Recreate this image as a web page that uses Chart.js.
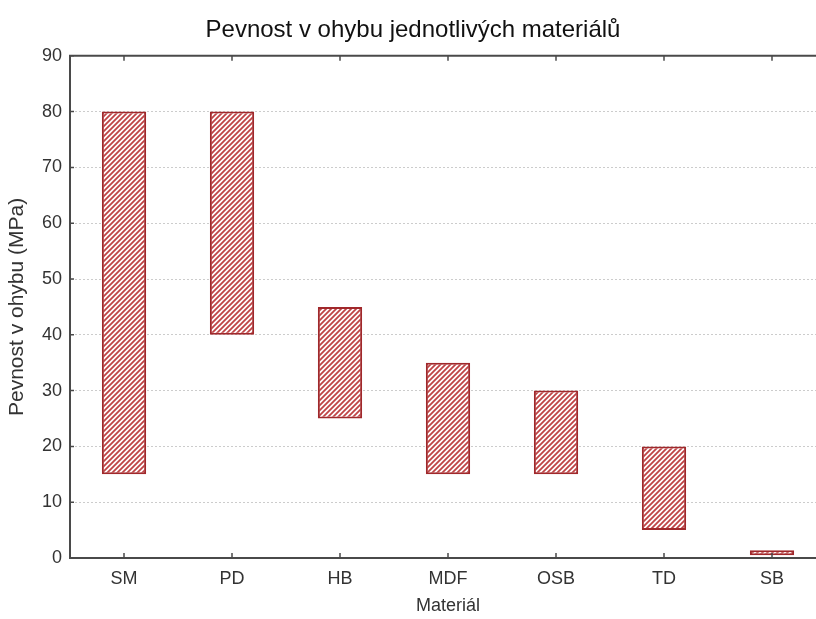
<!DOCTYPE html>
<html>
<head>
<meta charset="utf-8">
<script src="https://cdn.jsdelivr.net/npm/chart.js@4/dist/chart.umd.min.js"></script>
<style>
    html, body { margin: 0; padding: 0; background: #fff; overflow: hidden; }
    #wrap { width: 826px; height: 619px; }
</style>
</head>
<body>
<div id="wrap"><canvas id="pevnostChart" width="826" height="619"></canvas></div>
<script>
// data (MPa)
var categories = ['SM', 'PD', 'HB', 'MDF', 'OSB', 'TD', 'SB'];
var minValues = [15, 40, 25, 15, 15, 5, 0.5];
var maxValues = [80, 80, 45, 35, 30, 20, 1.4];
var yMin = 0;
var yMax = 90;
var yStep = 10;

function makeHatch() {
    var size = 5;
    var c = document.createElement('canvas');
    c.width = size;
    c.height = size;
    var g = c.getContext('2d');
    g.fillStyle = '#ffffff';
    g.fillRect(0, 0, size, size);
    g.strokeStyle = '#bf4446';
    g.lineWidth = 1.8;
    g.beginPath();
    g.moveTo(0, size); g.lineTo(size, 0);
    g.moveTo(-1, 1); g.lineTo(1, -1);
    g.moveTo(size - 1, size + 1); g.lineTo(size + 1, size - 1);
    g.stroke();
    return g.createPattern(c, 'repeat');
}

// top frame line + inward tick marks
var framePlugin = {
    id: 'frame',
    afterDraw: function(chart) {
        var ctx = chart.ctx;
        var a = chart.chartArea;
        var xs = chart.scales.x;
        var ys = chart.scales.y;
        ctx.save();
        ctx.strokeStyle = '#4a4a4a';
        ctx.lineWidth = 2;
        ctx.beginPath();
        ctx.moveTo(a.left - 1, a.top);
        ctx.lineTo(a.right, a.top);
        ctx.stroke();
        ctx.lineWidth = 1.5;
        ctx.beginPath();
        categories.forEach(function(c, i) {
            var px = Math.round(xs.getPixelForValue(i));
            ctx.moveTo(px, a.bottom);
            ctx.lineTo(px, a.bottom - 5);
            ctx.moveTo(px, a.top);
            ctx.lineTo(px, a.top + 5);
        });
        ys.ticks.forEach(function(t) {
            var py = ys.getPixelForValue(t.value);
            ctx.moveTo(a.left, py);
            ctx.lineTo(a.left + 4, py);
        });
        ctx.stroke();
        ctx.restore();
    }
};

Chart.defaults.font.family = '"Liberation Sans", Arial, sans-serif';
Chart.defaults.color = '#2a2a2a';

var ranges = categories.map(function(c, i) { return [minValues[i], maxValues[i]]; });

var ctx = document.getElementById('pevnostChart').getContext('2d');
var pevnostChart = new Chart(ctx, {
    type: 'bar',
    data: {
        labels: categories,
        datasets: [{
            label: 'Pevnost v ohybu',
            data: ranges,
            backgroundColor: makeHatch(),
            borderColor: '#a0282b',
            borderWidth: 2,
            borderSkipped: false,
            barPercentage: 0.41,
            categoryPercentage: 1
        }]
    },
    options: {
        responsive: false,
        animation: false,
        layout: { padding: 0 },
        plugins: {
            legend: { display: false },
            tooltip: { enabled: false },
            title: {
                display: true,
                text: 'Pevnost v ohybu jednotlivých materiálů',
                color: '#111111',
                font: { size: 24, weight: 'normal' },
                padding: { top: 16, bottom: 11 }
            }
        },
        scales: {
            x: {
                grid: { display: false, drawTicks: false },
                border: { display: true, color: '#4a4a4a', width: 2 },
                ticks: { font: { size: 18 }, padding: 10, color: '#333333' },
                title: {
                    display: true,
                    text: 'Materiál',
                    font: { size: 18 },
                    color: '#333333',
                    padding: { top: 0, bottom: 2 }
                },
                afterFit: function(scale) { scale.height = 61; }
            },
            y: {
                min: yMin,
                max: yMax,
                grid: { color: '#cccccc', lineWidth: 1, drawTicks: false },
                border: { display: true, color: '#4a4a4a', width: 2, dash: [2, 2] },
                ticks: { stepSize: yStep, font: { size: 18 }, padding: 8, color: '#333333' },
                title: {
                    display: true,
                    text: 'Pevnost v ohybu (MPa)',
                    font: { size: 21 },
                    color: '#333333',
                    padding: { top: 5, bottom: 0 }
                },
                afterFit: function(scale) { scale.width = 70; }
            }
        }
    },
    plugins: [framePlugin]
});
</script>
</body>
</html>
